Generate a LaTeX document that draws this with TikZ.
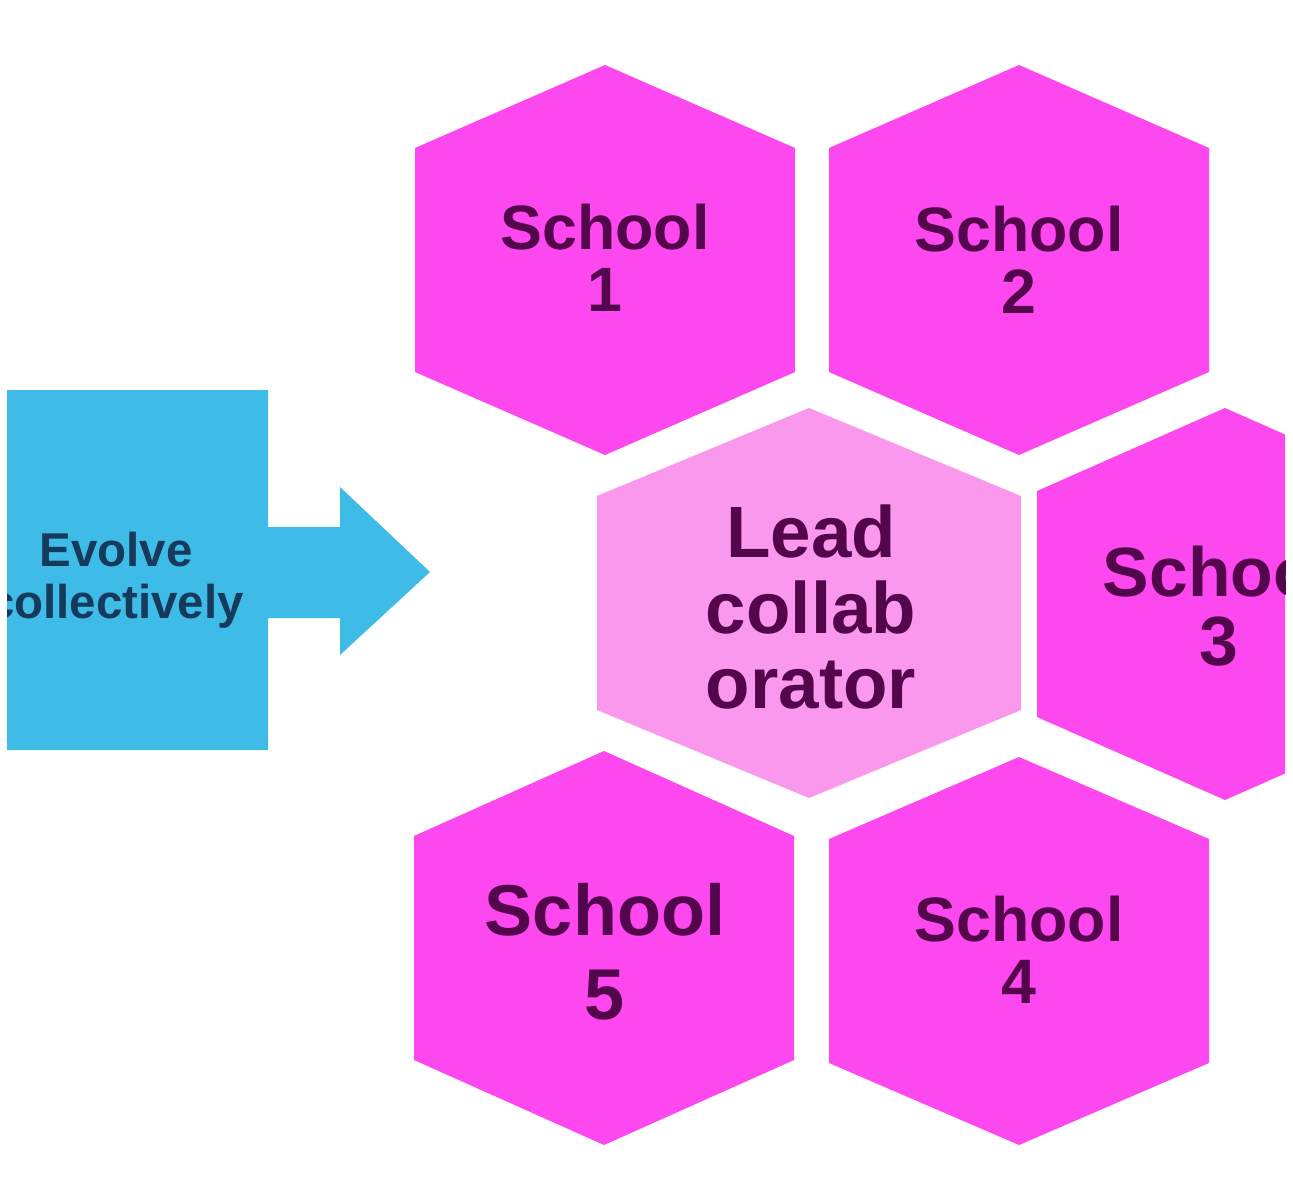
\documentclass[tikz,border=0pt]{standalone}
\usepackage{fontspec}
\setmainfont{Liberation Sans}
\definecolor{hexmag}{RGB}{252,72,238}
\definecolor{hexlight}{RGB}{249,152,236}
\definecolor{arrowblue}{RGB}{62,187,230}
\definecolor{hextext}{RGB}{84,6,76}
\definecolor{arrowtext}{RGB}{22,58,92}
\tikzset{
  pics/hexa/.style args={#1/#2/#3}{code={
    \fill[pic actions] (0,-#2) -- (#1,-#3) -- (#1,#3) -- (0,#2) -- (-#1,#3) -- (-#1,-#3) -- cycle;}},
  hextxt/.style={align=center, text=hextext, inner sep=0pt},
  small/.style={font=\fontsize{35.7}{35}\selectfont\bfseries},
}
\begin{document}
\begin{tikzpicture}[x=0.02cm,y=-0.02cm]
\useasboundingbox (0,0) rectangle (1293,1182);
\fill[white] (0,0) rectangle (1293,1182);
\clip (7,5) rectangle (1285,1177);
% arrow callout
\fill[arrowblue] (7,390) -- (268,390) -- (268,527) -- (340,527) -- (340,487)
  -- (430,572) -- (340,655) -- (340,618) -- (268,618) -- (268,750) -- (7,750) -- cycle;
\node[align=center, text=arrowtext, inner sep=0pt,
  font=\fontsize{27}{29.5}\selectfont\bfseries] (evolve) at (116,580) {Evolve\\collectively};
% hexagons
\pic[fill=hexmag] at (605,260) {hexa=190/195/112};
\pic[fill=hexmag] at (1019,260) {hexa=190/195/112};
\pic[fill=hexlight] at (809,603) {hexa=212/195/107};
\pic[fill=hexmag] at (1225,604) {hexa=188/196/113};
\pic[fill=hexmag] at (604,948) {hexa=190/197/112};
\pic[fill=hexmag] at (1019,951) {hexa=190/194/112};
% labels
\node[hextxt, small] (s1) at (605,258) {School\\1};
\node[hextxt, small] (s2) at (1019,260) {School\\2};
\node[hextxt, font=\fontsize{39.7}{39.7}\selectfont\bfseries] (s3) at (1219,606) {School\\3};
\node[hextxt, font=\fontsize{41.4}{43}\selectfont\bfseries] (lead) at (811,607) {Lead\\collab\\orator};
\node[hextxt, font=\fontsize{41}{48}\selectfont\bfseries] (s5) at (605,952) {School\\5};
\node[hextxt, small] (s4) at (1019,950) {School\\4};
\end{tikzpicture}
\end{document}
